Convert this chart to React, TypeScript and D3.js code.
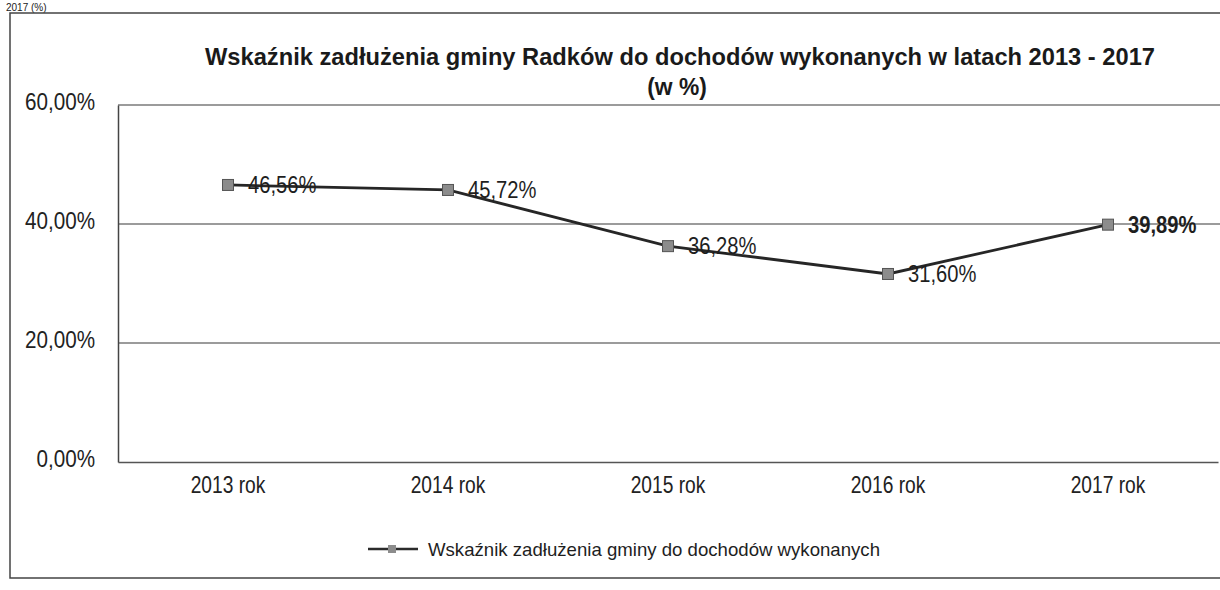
import React, { useEffect, useRef } from 'react';
import * as d3 from 'd3';

const years = ['2013 rok', '2014 rok', '2015 rok', '2016 rok', '2017 rok'];
const debtRatio = [46.56, 45.72, 36.28, 31.6, 39.89];
const yTicks = [0, 20, 40, 60];
const seriesName = 'Wskaźnik zadłużenia gminy do dochodów wykonanych';

const fmt = (v: number) => v.toFixed(2).replace('.', ',') + '%';

// squeeze text horizontally, the scan uses a narrow typeface
function condense(sel: d3.Selection<any, any, any, any>, f: number) {
  sel.each(function () {
    const t = this as SVGTextElement;
    const len = t.getComputedTextLength();
    d3.select(t).attr('textLength', len * f).attr('lengthAdjust', 'spacingAndGlyphs');
  });
}

export default function App() {
  const svgRef = useRef<SVGSVGElement>(null);

  useEffect(() => {
    const w = 1220;
    const h = 590;
    const font = '"Liberation Sans", Arial, sans-serif';
    const svg = d3.select(svgRef.current)
      .attr('width', w)
      .attr('height', h)
      .style('background', '#fff');
    svg.selectAll('*').remove();

    // outer frame and the caption above it
    svg.append('text')
      .attr('x', 6).attr('y', 11)
      .attr('font-family', font).attr('font-size', 10)
      .attr('fill', '#222')
      .text('2017 (%)');
    svg.append('path')
      .attr('d', 'M1220,13 H10 V578 H1220')
      .attr('fill', 'none')
      .attr('stroke', '#444')
      .attr('stroke-width', 1.5);

    // title
    svg.append('text')
      .attr('x', 680).attr('y', 65)
      .attr('text-anchor', 'middle')
      .attr('font-family', font).attr('font-size', 24).attr('font-weight', 'bold')
      .attr('fill', '#1a1a1a')
      .attr('textLength', 950).attr('lengthAdjust', 'spacingAndGlyphs')
      .text('Wskaźnik zadłużenia gminy Radków do dochodów wykonanych w latach 2013 - 2017');
    const t2 = svg.append('text')
      .attr('x', 677).attr('y', 95)
      .attr('text-anchor', 'middle')
      .attr('font-family', font).attr('font-size', 24).attr('font-weight', 'bold')
      .attr('fill', '#1a1a1a')
      .text('(w %)');
    condense(t2, 0.95);

    const x = d3.scaleBand()
      .domain(years)
      .range([118, 1218]);
    const y = d3.scaleLinear()
      .domain([0, 60])
      .range([462, 105]);

    // gridlines
    svg.append('g')
      .selectAll('line')
      .data(yTicks.filter(t => t > 0))
      .join('line')
        .attr('x1', 118).attr('x2', w)
        .attr('y1', d => y(d)).attr('y2', d => y(d))
        .attr('stroke', '#7a7a7a')
        .attr('stroke-width', 1.3);

    // y axis
    const yAxis = d3.axisLeft(y)
      .tickValues(yTicks)
      .tickSize(0)
      .tickPadding(23)
      .tickFormat(d => fmt(+d));
    const gy = svg.append('g')
      .attr('transform', 'translate(118,0)')
      .call(yAxis);
    gy.select('.domain').attr('stroke', '#444').attr('stroke-width', 1.5);
    const gyText = gy.selectAll('text')
      .attr('font-family', font).attr('font-size', 24).attr('fill', '#222')
      .attr('dy', '0.2em');
    condense(gyText, 0.86);

    // x axis
    const xAxis = d3.axisBottom(x).tickSize(0).tickPadding(14);
    const gx = svg.append('g')
      .attr('transform', 'translate(0,462)')
      .call(xAxis);
    gx.select('.domain').attr('stroke', '#555').attr('stroke-width', 1.5);
    const gxText = gx.selectAll('text')
      .attr('font-family', font).attr('font-size', 24).attr('fill', '#222');
    condense(gxText, 0.8);

    const cx = (d: string) => (x(d) ?? 0) + x.bandwidth() / 2;
    const pts = years.map((yr, i) => ({ yr, v: debtRatio[i] }));

    const line = d3.line<{ yr: string; v: number }>()
      .x(d => cx(d.yr))
      .y(d => y(d.v));
    svg.append('path')
      .datum(pts)
      .attr('d', line)
      .attr('fill', 'none')
      .attr('stroke', '#262626')
      .attr('stroke-width', 2.8);

    svg.append('g')
      .selectAll('rect')
      .data(pts)
      .join('rect')
        .attr('x', d => cx(d.yr) - 5.5)
        .attr('y', d => y(d.v) - 5.5)
        .attr('width', 11).attr('height', 11)
        .attr('fill', '#8c8c8c')
        .attr('stroke', '#555')
        .attr('stroke-width', 1);

    const labels = svg.append('g')
      .selectAll('text')
      .data(pts)
      .join('text')
        .attr('x', d => cx(d.yr) + 20)
        .attr('y', d => y(d.v) + 8)
        .attr('font-family', font).attr('font-size', 24)
        .attr('font-weight', (d, i) => (i === 4 ? 'bold' : 'normal'))
        .attr('fill', '#1e1e1e')
        .text(d => fmt(d.v));
    condense(labels, 0.84);

    // legend
    const lg = svg.append('g').attr('transform', 'translate(368,549)');
    lg.append('line')
      .attr('x1', 0).attr('x2', 50)
      .attr('stroke', '#2b2b2b').attr('stroke-width', 2.5);
    lg.append('rect')
      .attr('x', 20).attr('y', -4).attr('width', 8).attr('height', 8)
      .attr('fill', '#8c8c8c');
    lg.append('text')
      .attr('x', 60).attr('y', 7)
      .attr('font-family', font).attr('font-size', 19)
      .attr('fill', '#1e1e1e')
      .attr('textLength', 452).attr('lengthAdjust', 'spacingAndGlyphs')
      .text(seriesName);
  }, []);

  return (
    <div style={{ position: 'absolute', left: 0, top: 0 }}>
      <svg ref={svgRef}></svg>
    </div>
  );
}
